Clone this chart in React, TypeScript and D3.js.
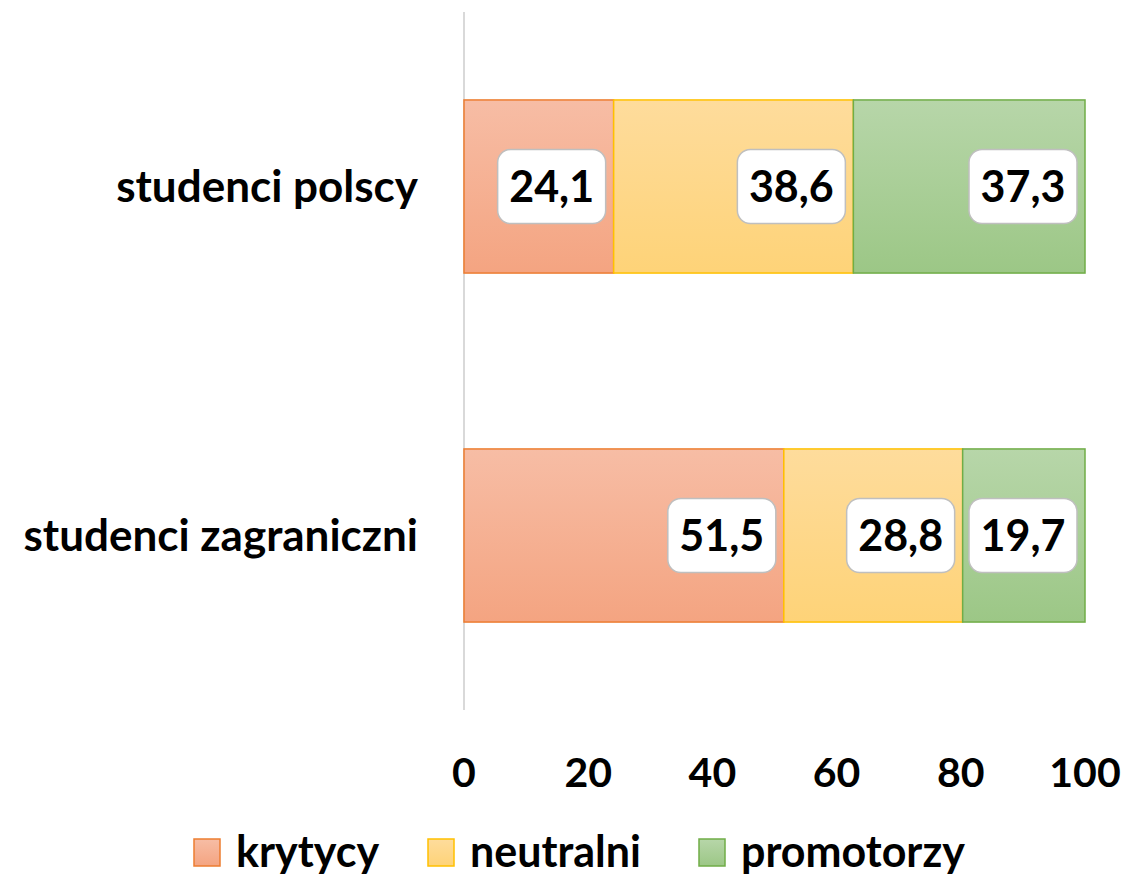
import React from 'react';
import * as d3 from 'd3';

// dane
const categories = ['studenci polscy', 'studenci zagraniczni'];
const seriesNames = ['krytycy', 'neutralni', 'promotorzy'];
const krytycy = [24.1, 51.5];
const neutralni = [38.6, 28.8];
const promotorzy = [37.3, 19.7];
const xTicks = [0, 20, 40, 60, 80, 100];

const colors = [
  { top: '#F7BDA5', bottom: '#F4A481', stroke: '#ED7D31' },
  { top: '#FEDC9C', bottom: '#FED378', stroke: '#FFC000' },
  { top: '#B7D6A9', bottom: '#9CC786', stroke: '#70AD47' },
];

const FONT = 'Lato, "Open Sans", sans-serif';
const plFormat = d3.formatLocale({ decimal: ',', thousands: ' ', grouping: [3], currency: ['', ' zł'] }).format('.1f');

export default function App() {
  const width = 1130;
  const height = 875;

  const rows = categories.map((c, i) => ({
    category: c,
    krytycy: krytycy[i],
    neutralni: neutralni[i],
    promotorzy: promotorzy[i],
  }));
  const stacked = d3.stack<any>().keys(seriesNames)(rows);

  const x = d3.scaleLinear().domain([0, 100]).range([464, 1085]);
  const y = d3.scaleBand().domain(categories).range([12, 710]).paddingInner(0.504).paddingOuter(0.252);

  const boxW = 108;
  const boxH = 74;

  return (
    <svg width={width} height={height} style={{ position: 'absolute', left: 0, top: 0, background: '#fff' }}>
      <defs>
        {colors.map((c, i) => (
          <linearGradient key={i} id={'grad' + i} x1="0" y1="0" x2="0" y2="1">
            <stop offset="0%" stopColor={c.top} />
            <stop offset="100%" stopColor={c.bottom} />
          </linearGradient>
        ))}
      </defs>

      {/* os pionowa */}
      <line x1={x(0)} x2={x(0)} y1={12} y2={710} stroke="#D9D9D9" strokeWidth={2} />

      {/* slupki */}
      {stacked.map((s, si) => (
        <g key={s.key}>
          {s.map((d, i) => (
            <rect
              key={i}
              x={x(d[0])}
              y={y(categories[i])}
              width={x(d[1]) - x(d[0])}
              height={y.bandwidth()}
              fill={`url(#grad${si})`}
              stroke={colors[si].stroke}
              strokeWidth={1.5}
            />
          ))}
        </g>
      ))}

      {/* etykiety danych */}
      {stacked.map((s, si) => (
        <g key={'l' + s.key}>
          {s.map((d, i) => {
            const cy = (y(categories[i]) as number) + y.bandwidth() / 2;
            const right = x(d[1]) - 8;
            return (
              <g key={i}>
                <rect
                  x={right - boxW}
                  y={cy - boxH / 2}
                  width={boxW}
                  height={boxH}
                  rx={13}
                  fill="#fff"
                  stroke="#BFBFBF"
                  strokeWidth={1.5}
                />
                <text
                  x={right - boxW / 2}
                  y={cy}
                  dy="0.36em"
                  textAnchor="middle"
                  fontFamily={FONT}
                  fontWeight="bold"
                  fontSize={43}
                  fill="#000"
                >
                  {plFormat(d[1] - d[0])}
                </text>
              </g>
            );
          })}
        </g>
      ))}

      {/* kategorie */}
      {categories.map(c => (
        <text
          key={c}
          x={418}
          y={(y(c) as number) + y.bandwidth() / 2}
          dy="0.36em"
          textAnchor="end"
          fontFamily={FONT}
          fontWeight="bold"
          fontSize={44}
          fill="#000"
        >
          {c}
        </text>
      ))}

      {/* os x */}
      {xTicks.map(t => (
        <text
          key={t}
          x={x(t)}
          y={772}
          dy="0.36em"
          textAnchor="middle"
          fontFamily={FONT}
          fontWeight="bold"
          fontSize={41}
          fill="#000"
        >
          {t}
        </text>
      ))}

      {/* legenda */}
      {seriesNames.map((n, i) => {
        const lx = [194, 428, 699][i];
        return (
          <g key={n} transform={`translate(${lx},852)`}>
            <rect x={0} y={-13} width={26} height={27} fill={`url(#grad${i})`} stroke={colors[i].stroke} strokeWidth={1.5} />
            <text x={42} y={0} dy="0.36em" fontFamily={FONT} fontWeight="bold" fontSize={43} fill="#000">
              {n}
            </text>
          </g>
        );
      })}
    </svg>
  );
}
